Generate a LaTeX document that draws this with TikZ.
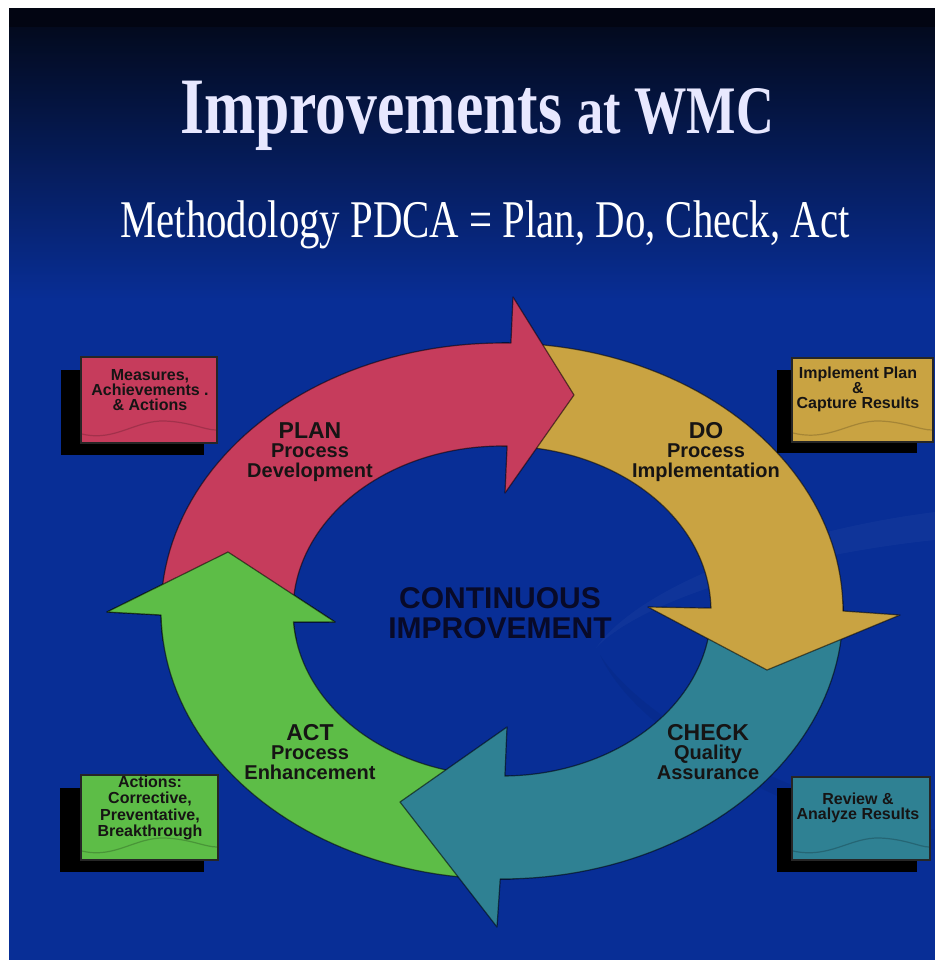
\documentclass[tikz,border=0pt]{standalone}
\usepackage{fontspec}
\setmainfont{Liberation Serif}
\newfontfamily\ttlfont[FakeStretch=0.77]{Liberation Serif}
\newfontfamily\lbfont{Liberation Sans}
\definecolor{bgblue}{RGB}{8,46,150}
\definecolor{bgtop}{RGB}{3,10,30}
\definecolor{bgband}{RGB}{2,5,18}
\definecolor{planred}{RGB}{198,60,92}
\definecolor{dogold}{RGB}{201,163,66}
\definecolor{checkteal}{RGB}{47,129,147}
\definecolor{actgreen}{RGB}{93,189,71}
\definecolor{lbltext}{RGB}{22,20,20}
\definecolor{centertext}{RGB}{8,10,40}
\definecolor{titlecol}{RGB}{232,232,255}
\begin{document}
\begin{tikzpicture}[x=0.5pt,y=-0.5pt,
  arr/.style={draw=black,draw opacity=0.55,line width=0.6pt,line join=round},
  lbl/.style={font=\lbfont\bfseries\fontsize{10}{9.7}\selectfont,text=lbltext,align=center},
  boxtxt/.style={font=\lbfont\bfseries\fontsize{8}{7.5}\selectfont,text=lbltext,align=center},
  shadowbox/.style={fill=black},
  cbox/.style={draw=black!85,line width=0.6pt},
  wave/.style={line width=0.6pt,draw opacity=0.6}]
\useasboundingbox (0,0) rectangle (935,960);
% background
\fill[white] (0,0) rectangle (935,960);
\fill[bgblue] (9,300) rectangle (935,960);
\shade[top color=bgtop,bottom color=bgblue] (9,26) rectangle (935,301);
\fill[bgband] (9,8) rectangle (935,27);
% faint swirl
\fill[white,fill opacity=0.03] (935,512) .. controls (790,530) and (640,585) .. (596,648)
  .. controls (640,600) and (790,555) .. (935,540) -- cycle;
\fill[black,fill opacity=0.05] (600,655) .. controls (650,730) and (800,800) .. (935,830)
  -- (935,850) .. controls (790,815) and (640,740) .. (600,655) -- cycle;
% title
\node[anchor=base,text=titlecol,font=\ttlfont\bfseries] (title) at (477,133)
  {\fontsize{40}{40}\selectfont Improvements \fontsize{34}{34}\selectfont at WMC};
\node[anchor=base,text=white,font=\ttlfont\fontsize{26.5}{26.5}\selectfont] (sub) at (485,237)
  {Methodology PDCA = Plan, Do, Check, Act};
% ACT (green)
\path[arr,fill=actgreen] plot[domain=272:180.85,samples=50] ({502+341*cos(\x)},{611-268*sin(\x)})
  -- (107,612) -- (228,552) -- (335,622)
  -- plot[domain=183.8:272,samples=50] ({502+209*cos(\x)},{611-165*sin(\x)}) -- cycle;
% CHECK (teal)
\path[arr,fill=checkteal] plot[domain=2:-90.3,samples=50] ({502+341*cos(\x)},{611-268*sin(\x)})
  -- (497,927) -- (400,802) -- (507,727)
  -- plot[domain=-89.2:2,samples=50] ({502+209*cos(\x)},{611-165*sin(\x)}) -- cycle;
% DO (gold)
\path[arr,fill=dogold] plot[domain=90:0,samples=50] ({502+341*cos(\x)},{611-268*sin(\x)})
  -- (900,615) -- (767,670) -- (648,607)
  -- plot[domain=1:90,samples=50] ({502+209*cos(\x)},{611-165*sin(\x)}) -- cycle;
% PLAN (red)
\path[arr,fill=planred] plot[domain=180:88.5,samples=50] ({502+341*cos(\x)},{611-268*sin(\x)})
  -- (513,297) -- (574,395) -- (505,493)
  -- plot[domain=88.6:180,samples=50] ({502+209*cos(\x)},{611-165*sin(\x)}) -- cycle;
% ACT head again on top of the PLAN tail
\begin{scope}
\clip (95,540) rectangle (345,640);
\path[arr,fill=actgreen] plot[domain=272:180.85,samples=50] ({502+341*cos(\x)},{611-268*sin(\x)})
  -- (107,612) -- (228,552) -- (335,622)
  -- plot[domain=183.8:272,samples=50] ({502+209*cos(\x)},{611-165*sin(\x)}) -- cycle;
\end{scope}
% ring labels
\node[lbl] (plan) at (310,452) {{\fontsize{11.5}{11}\selectfont PLAN}\\Process\\Development};
\node[lbl] (do) at (706,452) {{\fontsize{11.5}{11}\selectfont DO}\\Process\\Implementation};
\node[lbl] (check) at (708,752) {{\fontsize{11.5}{11}\selectfont CHECK}\\Quality\\Assurance};
\node[lbl] (act) at (310,752) {{\fontsize{11.5}{11}\selectfont ACT}\\Process\\Enhancement};
\node[font=\lbfont\bfseries\fontsize{15}{15}\selectfont,text=centertext,align=center] (ci) at (500,613)
  {CONTINUOUS\\IMPROVEMENT};
% corner boxes
% top left
\fill[shadowbox] (61,370) rectangle (204,455);
\draw[cbox,fill=planred] (81,357) rectangle (217,443);
\draw[wave,planred!70!black] (82,434) .. controls (115,442) and (135,420) .. (165,421) .. controls (190,422) and (205,430) .. (216,430);
\node[boxtxt] (tl) at (150,390) {Measures,\\Achievements .\\\& Actions};
% top right
\fill[shadowbox] (777,370) rectangle (917,453);
\draw[cbox,fill=dogold] (792,358) rectangle (933,442);
\draw[wave,dogold!70!black] (793,433) .. controls (830,442) and (850,420) .. (880,421) .. controls (905,422) and (920,430) .. (932,430);
\node[boxtxt] (tr) at (858,389) {Implement Plan\\\&\\Capture Results};
% bottom left
\fill[shadowbox] (60,788) rectangle (204,872);
\draw[cbox,fill=actgreen] (81,775) rectangle (218,860);
\draw[wave,actgreen!65!black] (82,851) .. controls (115,859) and (135,837) .. (165,838) .. controls (190,839) and (205,847) .. (217,847);
\node[boxtxt,font=\lbfont\bfseries\fontsize{8}{8.2}\selectfont] (bl) at (150,808) {Actions:\\Corrective,\\Preventative,\\Breakthrough};
% bottom right
\fill[shadowbox] (777,788) rectangle (917,872);
\draw[cbox,fill=checkteal] (792,777) rectangle (930,860);
\draw[wave,checkteal!65!black] (793,851) .. controls (830,859) and (850,837) .. (880,838) .. controls (905,839) and (920,847) .. (929,847);
\node[boxtxt] (br) at (858,808) {Review \&\\Analyze Results};
\end{tikzpicture}
\end{document}
